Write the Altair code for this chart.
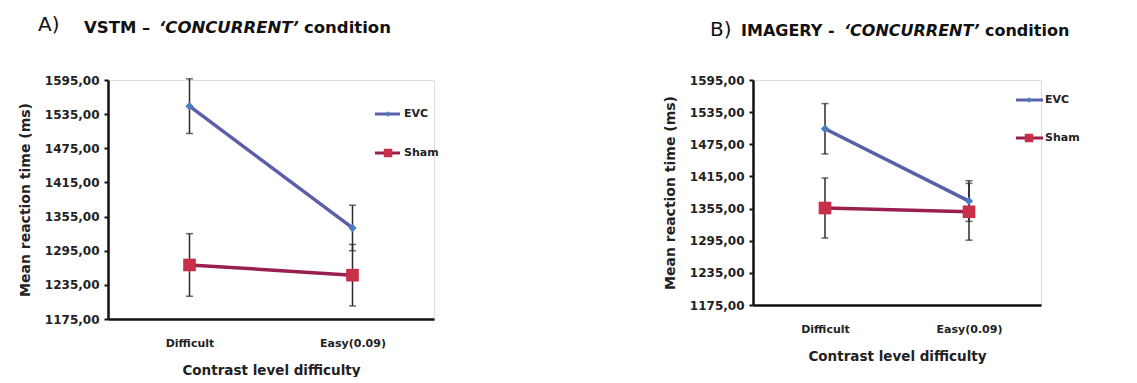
import altair as alt
import pandas as pd

categories = ["Difficult", "Easy(0.09)"]
series_names = ["EVC", "Sham"]

# Panel A: VSTM
a_evc = [1549, 1335]
a_evc_err = [48, 40]
a_sham = [1270, 1252]
a_sham_err = [55, 54]

# Panel B: IMAGERY
b_evc = [1504, 1369]
b_evc_err = [47, 38]
b_sham = [1356, 1349]
b_sham_err = [56, 53]

y_ticks = [1175, 1235, 1295, 1355, 1415, 1475, 1535, 1595]

LINE_COLORS = ["#5b5ea8", "#9a1f50"]
FILL_COLORS = ["#4a7ec0", "#c8304a"]
SHAPES = ["diamond", "square"]
SIZES = [70, 160]
FONT = "DejaVu Sans"
TXT = "#222222"


def make_y(field):
    return alt.Y(
        field,
        type="quantitative",
        scale=alt.Scale(domain=[1175, 1595], nice=False, zero=False),
        axis=alt.Axis(
            title="Mean reaction time (ms)",
            values=y_ticks,
            labelExpr="replace(format(datum.value, '.2f'), '.', ',')",
            grid=False,
            tickSize=4,
            tickWidth=2,
            tickColor="#111",
            domainColor="#111",
            domainWidth=2.5,
            labelFontSize=12,
            labelFontWeight="bold",
            labelColor=TXT,
            labelPadding=5,
            titleFontSize=14,
            titleFontWeight="bold",
            titlePadding=12,
            titleColor=TXT,
            labelFont=FONT,
            titleFont=FONT,
        ),
    )


def panel(evc, evc_err, sham, sham_err, w, h, title_parts, legend, anchor):
    rows = []
    for s, vals, errs in [("EVC", evc, evc_err), ("Sham", sham, sham_err)]:
        for c, v, e in zip(categories, vals, errs):
            rows.append(dict(series=s, cat=c, mean=v, lo=v - e, hi=v + e))
    df = pd.DataFrame(rows)

    x = alt.X(
        "cat:N",
        sort=categories,
        scale=alt.Scale(type="point", padding=0.5),
        axis=alt.Axis(
            title="Contrast level difficulty",
            labelAngle=0,
            ticks=False,
            labelPadding=18,
            labelFontSize=11,
            labelFontWeight="bold",
            labelColor=TXT,
            titleFontSize=13.5,
            titleFontWeight="bold",
            titlePadding=15,
            titleColor=TXT,
            domainColor="#111",
            domainWidth=2.5,
            labelFont=FONT,
            titleFont=FONT,
        ),
    )
    base = alt.Chart(df)
    err = base.mark_rule(color="#2a2a2a", strokeWidth=1.5).encode(
        x=x, y=make_y("lo"), y2="hi:Q"
    )
    cap_lo = base.mark_tick(color="#2a2a2a", thickness=1.5, size=7).encode(x=x, y=make_y("lo"))
    cap_hi = base.mark_tick(color="#2a2a2a", thickness=1.5, size=7).encode(x=x, y=make_y("hi"))
    line = base.mark_line(strokeWidth=3.5).encode(
        x=x,
        y=make_y("mean"),
        detail="series:N",
        stroke=alt.Stroke("series:N", scale=alt.Scale(domain=series_names, range=LINE_COLORS), legend=None),
    )
    pts = base.mark_point(filled=True, opacity=1).encode(
        x=x,
        y=make_y("mean"),
        fill=alt.Fill("series:N", scale=alt.Scale(domain=series_names, range=FILL_COLORS), legend=None),
        shape=alt.Shape("series:N", scale=alt.Scale(domain=series_names, range=SHAPES), legend=None),
        size=alt.Size("series:N", scale=alt.Scale(domain=series_names, range=SIZES), legend=None),
    )
    layers = [line, err, cap_lo, cap_hi, pts]

    tdf = pd.DataFrame({"d": [0]})
    # invisible layout anchors (white, on white background)
    ax_left, ax_top, ax_right = anchor
    layers.append(
        alt.Chart(tdf).mark_rule(color="white", strokeWidth=0.5)
        .encode(x=alt.value(ax_left), x2=alt.value(ax_left + 1), y=alt.value(ax_top))
    )
    layers.append(
        alt.Chart(tdf).mark_rule(color="white", strokeWidth=0.5)
        .encode(x=alt.value(ax_right - 1), x2=alt.value(ax_right), y=alt.value(ax_top))
    )

    # title pieces
    for text, xr, yr, size, weight, style in title_parts:
        layers.append(
            alt.Chart(tdf)
            .mark_text(text=text, align="left", baseline="middle", fontSize=size,
                       fontWeight=weight, fontStyle=style, font=FONT, color="#111")
            .encode(x=alt.value(xr), y=alt.value(yr))
        )

    # legend
    lx0, lx1, lmx, ltx, ly = legend
    for i, s in enumerate(series_names):
        yy = ly[i]
        layers.append(
            alt.Chart(tdf).mark_rule(color=LINE_COLORS[i], strokeWidth=3)
            .encode(x=alt.value(lx0), x2=alt.value(lx1), y=alt.value(yy))
        )
        layers.append(
            alt.Chart(tdf).mark_point(filled=True, shape=SHAPES[i], size=SIZES[i] * 0.45,
                                      color=FILL_COLORS[i], opacity=1)
            .encode(x=alt.value(lmx), y=alt.value(yy))
        )
        layers.append(
            alt.Chart(tdf).mark_text(text=s, align="left", baseline="middle", fontSize=11,
                                     font=FONT, color=TXT, fontWeight="bold")
            .encode(x=alt.value(ltx), y=alt.value(yy))
        )

    return alt.layer(*layers).properties(width=w, height=h)


panel_a = panel(
    a_evc, a_evc_err, a_sham, a_sham_err, 326, 239,
    [
        ("A)", -70, -55, 20, "normal", "normal"),
        ("VSTM \u2013", -24, -52, 16.5, "bold", "normal"),
        ("\u2018CONCURRENT\u2019", 51, -52, 16.5, "bold", "italic"),
        ("condition", 196, -52, 16.5, "bold", "normal"),
    ],
    (267, 292, 280, 296, [34, 73]),
    (-99, -69, 366),
)

panel_b = panel(
    b_evc, b_evc_err, b_sham, b_sham_err, 288, 225,
    [
        ("B)", -43, -50, 20, "normal", "normal"),
        ("IMAGERY -", -12, -49, 16, "bold", "normal"),
        ("\u2018CONCURRENT\u2019", 91, -49, 16, "bold", "italic"),
        ("condition", 232, -49, 16, "bold", "normal"),
    ],
    (263, 290, 276, 292, [20, 58]),
    (-100, -71, 340),
)

chart = (
    alt.hconcat(panel_a, panel_b, spacing=177)
    .configure_view(stroke=None)
    .configure(background="white", padding={"left": 0, "top": 0, "right": 0, "bottom": 0})
)

chart.save("out.html", embed_options={"renderer": "svg", "actions": False})
